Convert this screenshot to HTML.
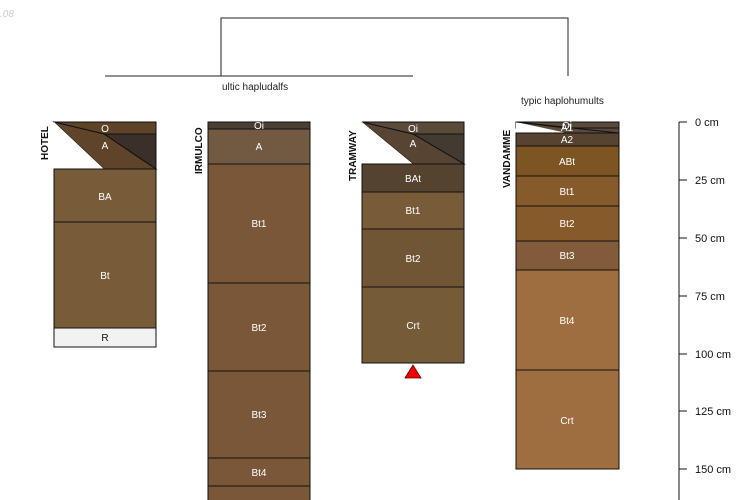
<!DOCTYPE html>
<html><head><meta charset="utf-8"><style>
html,body{margin:0;padding:0;background:#fff;}
svg{display:block;font-family:"Liberation Sans",sans-serif;}
</style></head><body>
<svg width="750" height="500" viewBox="0 0 750 500" xmlns="http://www.w3.org/2000/svg">
<text x="0" y="17" font-size="10" fill="#ccc" font-style="italic">.08</text>
<!-- dendrogram -->
<g stroke="#222" stroke-width="1" fill="none">
<polyline points="221,76 221,18 568,18 568,76"/>
<line x1="105" y1="76" x2="413" y2="76"/>
</g>
<text x="222" y="90" font-size="10" fill="#222">ultic hapludalfs</text>
<text x="521" y="104" font-size="10" fill="#222">typic haplohumults</text>

<g stroke="#111" stroke-width="1">
<!-- HOTEL -->
<polygon points="54,122 156,122 156,134 104,134" fill="#5e4427"/>
<polygon points="104,134 156,134 156,169" fill="#3a3029"/>
<polygon points="54,122 104,134 156,169 104,169" fill="#5f4429"/>
<polygon points="54,122 54,169 104,169" fill="#fff" stroke="none"/>
<rect x="54" y="169" width="102" height="53" fill="#785c39"/>
<rect x="54" y="222" width="102" height="106" fill="#785c39"/>
<rect x="54" y="328" width="102" height="19" fill="#f2f2f2"/>
<!-- IRMULCO -->
<rect x="208" y="122" width="102" height="7" fill="#4a3f35"/>
<rect x="208" y="129" width="102" height="35" fill="#725a42"/>
<rect x="208" y="164" width="102" height="119" fill="#7b5739"/>
<rect x="208" y="283" width="102" height="88" fill="#7b5739"/>
<rect x="208" y="371" width="102" height="87" fill="#7b5739"/>
<rect x="208" y="458" width="102" height="28" fill="#7b5739"/>
<rect x="208" y="486" width="102" height="20" fill="#7b5739"/>
<!-- TRAMWAY -->
<polygon points="362,122 464,122 464,134 413,134" fill="#5a4a3a"/>
<polygon points="413,134 464,134 464,164" fill="#433a32"/>
<polygon points="362,122 413,134 464,164 413,164" fill="#574432"/>
<polygon points="362,122 362,164 413,164" fill="#fff" stroke="none"/>
<rect x="362" y="164" width="102" height="28" fill="#56432f"/>
<rect x="362" y="192" width="102" height="37" fill="#785c39"/>
<rect x="362" y="229" width="102" height="58" fill="#715636"/>
<rect x="362" y="287" width="102" height="76" fill="#765b38"/>
<!-- VANDAMME -->
<rect x="516" y="122" width="103" height="6" fill="#5a4a3a"/>
<polygon points="516,122 567,128 619,128 619,133 567,133 516,128" fill="#5a4a3a"/>
<polygon points="516,122 516,133 567,133" fill="#fff" stroke="none"/>
<line x1="516" y1="122" x2="619" y2="133"/>
<rect x="516" y="133" width="103" height="13" fill="#57432f"/>
<rect x="516" y="146" width="103" height="30" fill="#7d5523"/>
<rect x="516" y="176" width="103" height="30" fill="#875a2c"/>
<rect x="516" y="206" width="103" height="35" fill="#875a2c"/>
<rect x="516" y="241" width="103" height="29" fill="#825c3a"/>
<rect x="516" y="270" width="103" height="100" fill="#9e6e40"/>
<rect x="516" y="370" width="103" height="99" fill="#9e6e40"/>
</g>
<polygon points="413,365 405,378 421,378" fill="#e00" stroke="#600" stroke-width="0.8"/>

<g font-size="10" fill="#fff" text-anchor="middle">
<text x="105" y="132">O</text><text x="105" y="149">A</text>
<text x="105" y="200">BA</text><text x="105" y="279">Bt</text>
<text x="105" y="341" fill="#111">R</text>
<text x="259" y="129">Oi</text><text x="259" y="150">A</text>
<text x="259" y="227">Bt1</text><text x="259" y="331">Bt2</text>
<text x="259" y="418">Bt3</text><text x="259" y="476">Bt4</text>
<text x="413" y="132">Oi</text><text x="413" y="147">A</text>
<text x="413" y="182">BAt</text><text x="413" y="214">Bt1</text>
<text x="413" y="262">Bt2</text><text x="413" y="329">Crt</text>
<text x="567" y="129">Oi</text><text x="567" y="131">A1</text>
<text x="567" y="143">A2</text><text x="567" y="165">ABt</text>
<text x="567" y="195">Bt1</text><text x="567" y="227">Bt2</text>
<text x="567" y="259">Bt3</text><text x="567" y="324">Bt4</text>
<text x="567" y="424">Crt</text>
</g>
<g font-size="10" font-weight="bold" fill="#111">
<text transform="translate(48,160) rotate(-90)">HOTEL</text>
<text transform="translate(202,174) rotate(-90)">IRMULCO</text>
<text transform="translate(356,181) rotate(-90)">TRAMWAY</text>
<text transform="translate(510,188) rotate(-90)">VANDAMME</text>
</g>
<!-- axis -->
<g stroke="#111" stroke-width="1">
<line x1="679" y1="122" x2="679" y2="500"/>
<line x1="679" y1="122" x2="687" y2="122"/>
<line x1="679" y1="180" x2="687" y2="180"/>
<line x1="679" y1="238" x2="687" y2="238"/>
<line x1="679" y1="296" x2="687" y2="296"/>
<line x1="679" y1="354" x2="687" y2="354"/>
<line x1="679" y1="411" x2="687" y2="411"/>
<line x1="679" y1="469" x2="687" y2="469"/>
</g>
<g font-size="11" fill="#111">
<text x="695" y="126">0 cm</text>
<text x="695" y="184">25 cm</text>
<text x="695" y="242">50 cm</text>
<text x="695" y="300">75 cm</text>
<text x="695" y="358">100 cm</text>
<text x="695" y="415">125 cm</text>
<text x="695" y="473">150 cm</text>
</g>
</svg>
</body></html>
